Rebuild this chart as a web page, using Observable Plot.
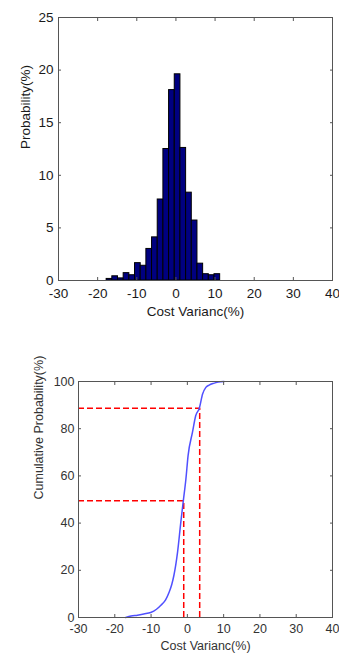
<!DOCTYPE html>
<html><head><meta charset="utf-8">
<script src="https://cdn.jsdelivr.net/npm/d3@7"></script>
<script src="https://cdn.jsdelivr.net/npm/@observablehq/plot@0.6"></script>
<style>
html,body{margin:0;padding:0;background:#fff;}
#c{width:339px;}
#c svg{display:block;}
</style></head><body><div id="c"></div>
<script>
// ---- data ----
const binEdges = [-17.7,-16.25,-14.8,-13.35,-11.9,-10.45,-9.0,-7.55,-6.1,-4.65,-3.2,-1.75,-0.3,1.15,2.6,4.05,5.5,6.95,8.4,9.85,11.3];
const binProb  = [0.15,0.4,0.2,0.7,0.5,1.65,1.4,3.0,4.1,7.7,12.5,18.1,19.6,12.6,8.35,5.7,1.6,0.6,0.5,0.6];
const xTicks = [-30,-20,-10,0,10,20,30,40];
const histYTicks = [0,5,10,15,20,25];
const cdfYTicks = [0,20,40,60,80,100];
const cdfX = [-17.0,-15.5,-13.75,-12.0,-10.1,-8.5,-7.3,-6.0,-5.0,-4.3,-3.7,-2.7,-1.8,-1.1,-0.4,0.2,1.4,2.3,3.3,4.2,5.1,6.0,7.4,8.5,10.1];
const cdfY = [0,0.6,1.0,1.5,2.1,3.5,5.2,7.5,10.8,14.0,17.9,27.7,40.4,49.6,58.7,68.6,78.4,85.5,88.7,94.7,97.5,98.5,99.3,99.8,100];
const markerX = [-1.0, 3.4];
const markerP = [49.5, 88.7];
const xLabel = "Cost Varianc(%)";
const histYLabel = "Probability(%)";
const cdfYLabel = "Cumulative Probability(%)";

(function () {
const hist = binProb.map((p, i) => ({x1: binEdges[i], x2: binEdges[i + 1], p}));
const cdf = cdfX.map((x, i) => ({x, y: cdfY[i]}));
const markers = markerX.map((v, i) => ({v, p: markerP[i], x0: xTicks[0]}));

const font = "'Liberation Sans', Arial, sans-serif";
const frameColor = "#555";
const fmt = (d) => String(d);

const histChart = Plot.plot({
  width: 339, height: 330,
  marginLeft: 58, marginRight: 7, marginTop: 17, marginBottom: 50,
  style: {fontFamily: font, fontSize: "13px", color: "#1a1a1a", background: "#fff", overflow: "visible"},
  x: {domain: [-30, 40], ticks: xTicks},
  y: {domain: [0, 25], ticks: histYTicks},
  marks: [
    Plot.rectY(hist, {x1: "x1", x2: "x2", y: "p", fill: "#000080", stroke: "#000", strokeWidth: 1}),
    Plot.frame({stroke: frameColor}),
    Plot.axisX(xTicks, {anchor: "bottom", tickSize: 0, tickPadding: 8, label: null, fontSize: 13.5, tickFormat: fmt}),
    Plot.axisX(xTicks, {anchor: "bottom", tickSize: -3, fill: "none", label: null, stroke: frameColor}),
    Plot.axisX(xTicks, {anchor: "top", tickSize: -3, fill: "none", label: null, stroke: frameColor}),
    Plot.axisY(histYTicks, {anchor: "left", tickSize: 0, tickPadding: 5, label: null, fontSize: 13.5, tickFormat: fmt}),
    Plot.axisY(histYTicks, {anchor: "left", tickSize: -3, fill: "none", label: null, stroke: frameColor}),
    Plot.axisY(histYTicks, {anchor: "right", tickSize: -3, fill: "none", label: null, stroke: frameColor}),
    Plot.text([histYLabel], {frameAnchor: "left", dx: -33, rotate: -90, lineAnchor: "middle", fontSize: 13.5, fill: "#1a1a1a"}),
    Plot.text([xLabel], {frameAnchor: "bottom", dy: 31, lineAnchor: "middle", fontSize: 13.5, fill: "#1a1a1a"})
  ]
});

const cdfChart = Plot.plot({
  width: 339, height: 323,
  marginLeft: 78, marginRight: 7, marginTop: 51, marginBottom: 36,
  style: {fontFamily: font, fontSize: "12.5px", color: "#333", background: "#fff", overflow: "visible"},
  x: {domain: [-30, 40], ticks: xTicks},
  y: {domain: [0, 100], ticks: cdfYTicks},
  marks: [
    Plot.ruleY(markers, {y: "p", x1: "x0", x2: "v", stroke: "#ff0000", strokeWidth: 1.5, strokeDasharray: "6,3"}),
    Plot.ruleX(markers, {x: "v", y1: 0, y2: "p", stroke: "#ff0000", strokeWidth: 1.5, strokeDasharray: "6,3"}),
    Plot.line(cdf, {x: "x", y: "y", stroke: "#5050ff", strokeWidth: 1.5, curve: "monotone-x"}),
    Plot.frame({stroke: frameColor}),
    Plot.axisX(xTicks, {anchor: "bottom", tickSize: 0, tickPadding: 7, label: null, tickFormat: fmt}),
    Plot.axisX(xTicks, {anchor: "bottom", tickSize: -3, fill: "none", label: null, stroke: frameColor}),
    Plot.axisX(xTicks, {anchor: "top", tickSize: -3, fill: "none", label: null, stroke: frameColor}),
    Plot.axisY(cdfYTicks, {anchor: "left", tickSize: 0, tickPadding: 4, label: null, tickFormat: fmt}),
    Plot.axisY(cdfYTicks, {anchor: "left", tickSize: -3, fill: "none", label: null, stroke: frameColor}),
    Plot.axisY(cdfYTicks, {anchor: "right", tickSize: -3, fill: "none", label: null, stroke: frameColor}),
    Plot.text([cdfYLabel], {frameAnchor: "left", dx: -40, rotate: -90, lineAnchor: "middle", fontSize: 12.5, fill: "#333"}),
    Plot.text([xLabel], {frameAnchor: "bottom", dy: 28, lineAnchor: "middle", fontSize: 12.5, fill: "#333"})
  ]
});

document.getElementById("c").append(histChart, cdfChart);
})();
</script>
</body></html>
